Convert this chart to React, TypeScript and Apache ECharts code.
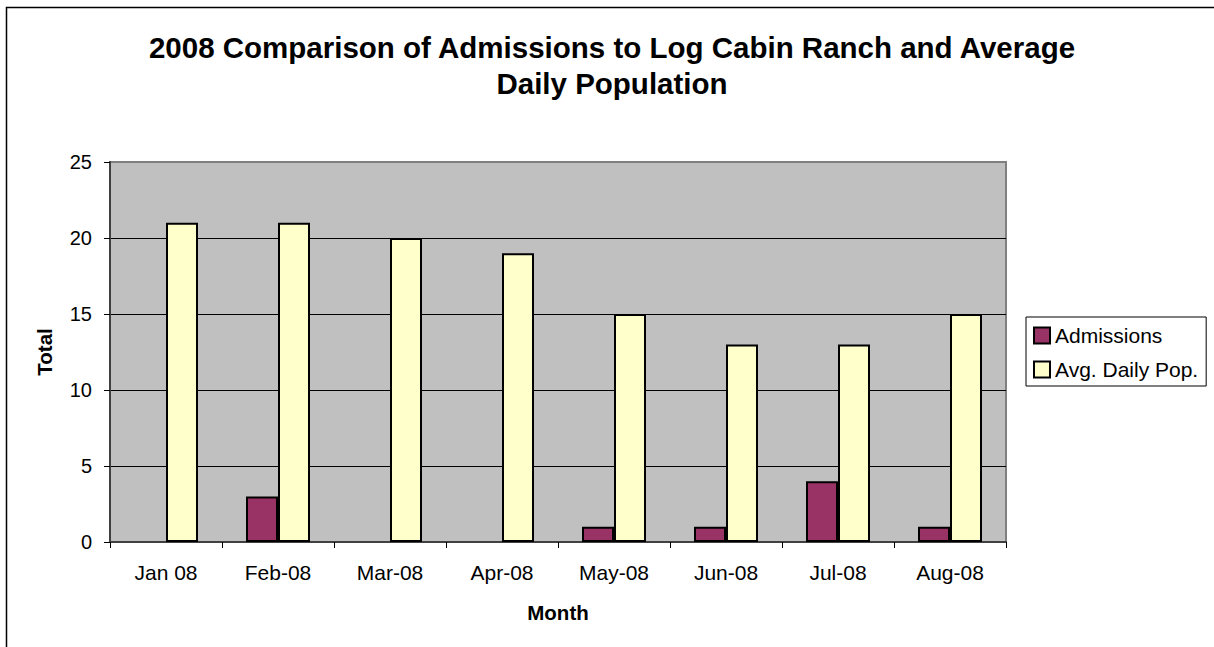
import React, { useEffect, useRef } from "react";
import * as echarts from "echarts";

const titleText = "2008 Comparison of Admissions to Log Cabin Ranch and Average\nDaily Population";
const months = ["Jan 08", "Feb-08", "Mar-08", "Apr-08", "May-08", "Jun-08", "Jul-08", "Aug-08"];
const admissions = [0, 3, 0, 0, 1, 1, 4, 1];
const avgDailyPop = [21, 21, 20, 19, 15, 13, 13, 15];
const seriesNames = ["Admissions", "Avg. Daily Pop."];
const yMin = 0;
const yMax = 25;
const yInterval = 5;

const FONT = "'Liberation Sans', Arial, sans-serif";

function toData(values: number[]) {
  return values.map((v) => (v === 0 ? { value: v, itemStyle: { borderWidth: 0 } } : v));
}

export default function App() {
  const ref = useRef<HTMLDivElement>(null);
  useEffect(() => {
    if (!ref.current) return;
    const chart = echarts.init(ref.current, null, { renderer: "svg" });
    chart.setOption({
      animation: false,
      backgroundColor: "#ffffff",
      textStyle: { fontFamily: FONT },
      title: {
        text: titleText,
        left: 612,
        textAlign: "center",
        top: 29,
        padding: 0,
        textStyle: {
          fontFamily: FONT,
          fontSize: 29.5,
          fontWeight: "bold",
          color: "#000",
          lineHeight: 36,
        },
      },
      graphic: [
        {
          type: "rect",
          shape: { x: 6.5, y: 7.5, width: 1230, height: 700 },
          style: { fill: "none", stroke: "#000", lineWidth: 1.5 },
          silent: true,
          z: 100,
        },
      ],
      legend: {
        orient: "vertical",
        left: 1026,
        top: 317,
        padding: [8, 8, 6, 7],
        itemGap: 13,
        itemWidth: 16,
        itemHeight: 16,
        itemTextGap: 4,
        borderColor: "#000",
        borderWidth: 1,
        icon: "rect",
        textStyle: { fontFamily: FONT, fontSize: 21, color: "#000" },
        data: seriesNames,
      },
      grid: {
        left: 110,
        right: 208,
        top: 162,
        bottom: 105,
        show: true,
        backgroundColor: "#C0C0C0",
        borderColor: "#808080",
        borderWidth: 2,
      },
      xAxis: {
        type: "category",
        data: months,
        name: "Month",
        nameLocation: "middle",
        nameGap: 60,
        nameTextStyle: { fontFamily: FONT, fontSize: 20.5, fontWeight: "bold", color: "#000" },
        axisLine: { show: true, lineStyle: { color: "#404040", width: 2 } },
        axisTick: { show: true, length: 6, lineStyle: { color: "#000", width: 1 } },
        axisLabel: { margin: 20, fontFamily: FONT, fontSize: 21, color: "#000" },
        splitLine: { show: false },
      },
      yAxis: {
        type: "value",
        min: yMin,
        max: yMax,
        interval: yInterval,
        name: "Total",
        nameLocation: "middle",
        nameGap: 55,
        nameRotate: 90,
        nameTextStyle: { fontFamily: FONT, fontSize: 20.5, fontWeight: "bold", color: "#000" },
        axisLine: { show: true, lineStyle: { color: "#404040", width: 2 } },
        axisTick: { show: true, length: 6, lineStyle: { color: "#000", width: 1 } },
        axisLabel: { margin: 18, fontFamily: FONT, fontSize: 20, color: "#000" },
        splitLine: {
          show: true,
          lineStyle: { color: ["#000", "#000", "#000", "#000", "#000", "#808080"], width: 1 },
        },
      },
      series: [
        {
          name: seriesNames[0],
          type: "bar",
          data: toData(admissions),
          barWidth: 32,
          barGap: "0%",
          itemStyle: { color: "#993366", borderColor: "#000", borderWidth: 2 },
        },
        {
          name: seriesNames[1],
          type: "bar",
          data: toData(avgDailyPop),
          barWidth: 32,
          barGap: "0%",
          itemStyle: { color: "#FFFFCC", borderColor: "#000", borderWidth: 2 },
        },
      ],
    });
    return () => chart.dispose();
  }, []);
  return (
    <div
      ref={ref}
      style={{ position: "absolute", left: 0, top: 0, width: 1214, height: 647 }}
    />
  );
}
